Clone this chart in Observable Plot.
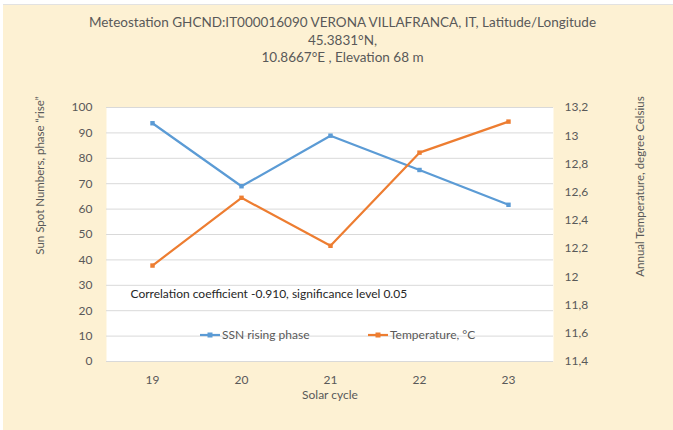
<!DOCTYPE html>
<html>
<head>
<meta charset="utf-8">
<script src="https://cdn.jsdelivr.net/npm/d3@7"></script>
<script src="https://cdn.jsdelivr.net/npm/@observablehq/plot@0.6"></script>
<style>
  html, body { margin: 0; padding: 0; background: #ffffff; }
  #wrap { position: relative; width: 673px; height: 430px; overflow: hidden; }
  #wrap svg { position: absolute; left: 0; top: 0; }
  #topstrip { position: absolute; left: 0; top: 0; width: 673px; height: 4px; background: #fff; border-bottom: 1px solid #e2e2e2; }
  #leftstrip { position: absolute; left: 0; top: 0; width: 3px; height: 430px; background: #fff; }
</style>
</head>
<body>
<div id="wrap"></div>
<script>
// ---- data ----
const cycles = [19, 20, 21, 22, 23];
const ssn = [93.8, 69.0, 88.9, 75.4, 61.7];
const temperature = [12.08, 12.56, 12.22, 12.88, 13.10];
const ssnTicks = [0, 10, 20, 30, 40, 50, 60, 70, 80, 90, 100];
const tempTickLabels = ["11,4", "11,6", "11,8", "12", "12,2", "12,4", "12,6", "12,8", "13", "13,2"];
const tempMin = 11.4, tempMax = 13.2;
const titleLines = [
  "Meteostation GHCND:IT000016090 VERONA VILLAFRANCA, IT, Latitude/Longitude",
  "45.3831°N,",
  "10.8667°E , Elevation 68 m"
];
const seriesNames = ["SSN rising phase", "Temperature, °C"];
const colors = ["#5B9BD5", "#ED7D31"];
const note = "Correlation coefficient -0.910, significance level 0.05";
const leftTitle = "Sun Spot Numbers, phase \u201Crise\u201D";
const rightTitle = "Annual Temperature, degree Celsius";
const xTitle = "Solar cycle";

// temperature mapped onto the SSN (left) scale for the secondary axis
const toLeft = t => (t - tempMin) / (tempMax - tempMin) * 100;
const ssnData = cycles.map((c, i) => ({cycle: c, value: ssn[i]}));
const tempData = cycles.map((c, i) => ({cycle: c, value: toLeft(temperature[i])}));
const step = 100 / (tempTickLabels.length - 1);
const rightTickPos = tempTickLabels.map((lab, i) => i * step);

const font = "Lato, 'Open Sans', sans-serif";
const textGray = "#595959";

const titleDy = [-85, -67, -50];

const chart = Plot.plot({
  width: 673,
  height: 430,
  marginLeft: 106,
  marginRight: 120,
  marginTop: 107,
  marginBottom: 69,
  style: {background: "#FDF1D3", fontFamily: font, fontSize: "12px", color: textGray},
  x: {type: "point", domain: cycles, padding: 0.5},
  y: {domain: [0, 100]},
  marks: [
    Plot.frame({fill: "#ffffff", stroke: null}),
    Plot.gridY(ssnTicks, {stroke: "#d9d9d9", strokeOpacity: 1}),
    Plot.axisY(ssnTicks, {tickSize: 0, tickPadding: 14, fill: textGray, fontSize: 12, label: null}),
    Plot.axisY(rightTickPos, {anchor: "right", tickSize: 0, tickPadding: 11, fill: textGray, fontSize: 12, label: null,
      tickFormat: d => tempTickLabels[Math.round(d / step)]}),
    Plot.axisX(cycles, {tickSize: 0, tickPadding: 14, fill: textGray, fontSize: 12, label: null}),
    // axis titles
    Plot.text([leftTitle], {text: d => d, frameAnchor: "left", textAnchor: "middle", lineAnchor: "middle", dx: -66, dy: -59, rotate: -90, fill: textGray, fontSize: 11.5}),
    Plot.text([rightTitle], {text: d => d, frameAnchor: "right", textAnchor: "middle", lineAnchor: "middle", dx: 87, dy: -48, rotate: -90, fill: textGray, fontSize: 11.5}),
    Plot.text([xTitle], {text: d => d, frameAnchor: "bottom", lineAnchor: "middle", dy: 34, fill: textGray, fontSize: 12}),
    // title (three lines)
    ...titleLines.map((line, i) => Plot.text([line], {text: d => d, frameAnchor: "top", lineAnchor: "middle", dx: 12.5, dy: titleDy[i], fill: textGray, fontSize: 13.5})),
    // note
    Plot.text([note], {text: d => d, frameAnchor: "left", textAnchor: "start", dx: 24, dy: 60, fill: "#262626", fontSize: 12}),
    // lines
    Plot.line(ssnData, {x: "cycle", y: "value", stroke: colors[0], strokeWidth: 2.2}),
    Plot.dot(ssnData, {x: "cycle", y: "value", fill: colors[0], r: 2.5, symbol: "square"}),
    Plot.line(tempData, {x: "cycle", y: "value", stroke: colors[1], strokeWidth: 2.2}),
    Plot.dot(tempData, {x: "cycle", y: "value", fill: colors[1], r: 2.5, symbol: "square"}),
  ]
});

// legend inside the plot area, drawn in the same svg
const wrap = document.getElementById("wrap");
wrap.appendChild(chart);
const ns = "http://www.w3.org/2000/svg";
const legendY = 335;
const legendItems = [{x: 200, name: seriesNames[0], color: colors[0]}, {x: 368, name: seriesNames[1], color: colors[1]}];
const g = document.createElementNS(ns, "g");
g.setAttribute("text-anchor", "start");
for (const it of legendItems) {
  const l = document.createElementNS(ns, "line");
  l.setAttribute("x1", it.x); l.setAttribute("x2", it.x + 20);
  l.setAttribute("y1", legendY); l.setAttribute("y2", legendY);
  l.setAttribute("stroke", it.color); l.setAttribute("stroke-width", 2.2);
  g.appendChild(l);
  const r = document.createElementNS(ns, "rect");
  r.setAttribute("x", it.x + 7.5); r.setAttribute("y", legendY - 2.5);
  r.setAttribute("width", 5); r.setAttribute("height", 5); r.setAttribute("fill", it.color);
  g.appendChild(r);
  const t = document.createElementNS(ns, "text");
  t.setAttribute("x", it.x + 22); t.setAttribute("y", legendY);
  t.setAttribute("dy", "0.35em"); t.setAttribute("fill", textGray);
  t.setAttribute("text-anchor", "start");
  t.setAttribute("font-size", 12); t.setAttribute("font-family", font);
  t.textContent = it.name;
  g.appendChild(t);
}
chart.appendChild(g);

const ts = document.createElement("div"); ts.id = "topstrip"; wrap.appendChild(ts);
const ls = document.createElement("div"); ls.id = "leftstrip"; wrap.appendChild(ls);
</script>
</body>
</html>
